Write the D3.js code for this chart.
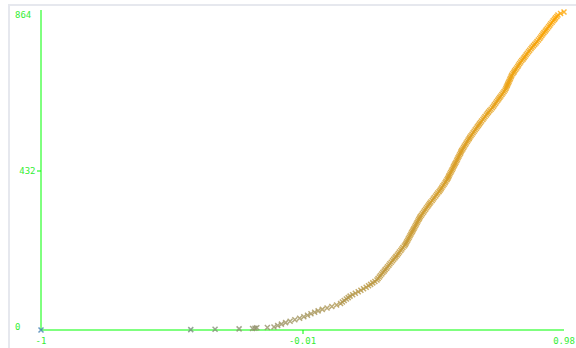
<!DOCTYPE html>
<html>
<head>
<meta charset="utf-8">
<script src="https://cdn.jsdelivr.net/npm/d3@7"></script>
<style>
  html, body { margin: 0; padding: 0; background: #fff; }
  svg { display: block; }
  text { font-family: "DejaVu Sans Mono", monospace; font-size: 9px; fill: #33ee33; }
</style>
</head>
<body>
<svg id="chart" width="576" height="348"></svg>
<script>
// Sorted sample: each value plotted against its rank.
const ranks = [0, 1, 2, 3, 4, 5, 6, 7,
  8, 12, 16, 20, 24, 28, 32, 36, 40, 44, 48, 52, 56, 60, 64, 68, 72, 76, 80, 84, 88, 92,
  96, 100, 104, 108, 112, 116, 120, 124, 128, 132, 136, 140, 144, 148, 152, 156, 160,
  164, 168, 172, 176, 180, 184, 188, 192, 196, 200, 204, 208, 212, 216, 220, 224, 228,
  232, 236, 240, 244, 248, 252, 256, 260, 264, 268, 272, 276, 280, 284, 288, 292, 296,
  300, 304, 308, 312, 316, 320, 324, 328, 332, 336, 340, 344, 348, 352, 356, 360, 364,
  368, 372, 376, 380, 384, 388, 392, 396, 400, 404, 408, 412, 416, 420, 424, 428, 432,
  436, 440, 444, 448, 452, 456, 460, 464, 468, 472, 476, 480, 484, 488, 492, 496, 500,
  504, 508, 512, 516, 520, 524, 528, 532, 536, 540, 544, 548, 552, 556, 560, 564, 568,
  572, 576, 580, 584, 588, 592, 596, 600, 604, 608, 612, 616, 620, 624, 628, 632, 636,
  640, 644, 648, 652, 656, 660, 664, 668, 672, 676, 680, 684, 688, 692, 696, 700, 704,
  708, 712, 716, 720, 724, 728, 732, 736, 740, 744, 748, 752, 756, 760, 764, 768, 772,
  776, 780, 784, 788, 792, 796, 800, 804, 808, 812, 816, 820, 824, 828, 832, 836, 840,
  844, 848, 852, 856, 860, 864];

const values = [-1, -0.433, -0.341, -0.250, -0.199, -0.190, -0.183, -0.143,
  -0.118, -0.104, -0.090, -0.074, -0.057, -0.039, -0.021, -0.005, 0.009, 0.022, 0.036, 0.049,
  0.065, 0.083, 0.101, 0.119, 0.134, 0.141, 0.148, 0.156, 0.163, 0.170,
  0.180, 0.190, 0.201, 0.211, 0.221, 0.231, 0.240, 0.248, 0.256, 0.264, 0.272, 0.276,
  0.281, 0.285, 0.290, 0.294, 0.299,
  0.303, 0.308, 0.312, 0.317, 0.321, 0.326, 0.331, 0.335, 0.340, 0.344, 0.349, 0.353,
  0.357, 0.362, 0.366, 0.370, 0.375,
  0.379, 0.382, 0.385, 0.388, 0.391, 0.394, 0.397, 0.400, 0.403, 0.406, 0.409, 0.412,
  0.415, 0.418, 0.421, 0.424, 0.427,
  0.430, 0.433, 0.436, 0.440, 0.444, 0.448, 0.452, 0.456, 0.460, 0.464, 0.468, 0.472,
  0.476, 0.481, 0.485, 0.489, 0.494,
  0.498, 0.502, 0.507, 0.511, 0.515, 0.518, 0.522, 0.526, 0.530, 0.533, 0.537, 0.540,
  0.543, 0.545, 0.548, 0.551, 0.554,
  0.557, 0.560, 0.562, 0.565, 0.568, 0.571, 0.574, 0.576, 0.579, 0.582, 0.585, 0.588,
  0.590, 0.593, 0.597, 0.600, 0.603,
  0.607, 0.610, 0.614, 0.617, 0.621, 0.624, 0.628, 0.632, 0.636, 0.640, 0.644, 0.648,
  0.652, 0.656, 0.660, 0.664, 0.668,
  0.673, 0.677, 0.681, 0.686, 0.690, 0.694, 0.699, 0.704, 0.709, 0.713, 0.717, 0.721,
  0.725, 0.729, 0.733, 0.737, 0.741,
  0.745, 0.749, 0.753, 0.757, 0.760, 0.762, 0.765, 0.767, 0.770, 0.772, 0.775, 0.777,
  0.780, 0.782, 0.786, 0.790, 0.793,
  0.797, 0.801, 0.805, 0.808, 0.812, 0.816, 0.820, 0.825, 0.829, 0.833, 0.837, 0.841,
  0.846, 0.850, 0.855, 0.859, 0.864,
  0.869, 0.874, 0.878, 0.883, 0.888, 0.892, 0.896, 0.900, 0.904, 0.909, 0.913, 0.917,
  0.922, 0.926, 0.930, 0.935, 0.939,
  0.944, 0.948, 0.953, 0.957, 0.967, 0.980];

const xTicks = [-1, -0.01, 0.98];
const yTicks = [0, 432, 864];

const svg = d3.select("#chart");

// light frame around the plot area
svg.append("rect")
  .attr("x", 9).attr("y", 5)
  .attr("width", 600).attr("height", 360)
  .attr("fill", "none")
  .attr("stroke", "#e6e8ee")
  .attr("stroke-width", 2);

const x = d3.scaleLinear().domain([-1, 0.98]).range([41, 564]);
const y = d3.scaleLinear().domain([0, 864]).range([330, 12]);
const color = d3.scaleLinear().domain([-1, 0.98])
  .range(["steelblue", "orange"]).interpolate(d3.interpolateRgb);

// axis lines
svg.append("line")
  .attr("x1", x(-1)).attr("x2", x(-1))
  .attr("y1", 10).attr("y2", y(0))
  .attr("stroke", "lime").attr("stroke-width", 1);
svg.append("line")
  .attr("x1", x(-1)).attr("x2", x(0.98))
  .attr("y1", y(0)).attr("y2", y(0))
  .attr("stroke", "lime").attr("stroke-width", 1);

// y tick labels: ends left-aligned, middle one right-aligned next to its tick
yTicks.forEach((t, i) => {
  const last = i === yTicks.length - 1;
  const first = i === 0;
  const mid = !first && !last;
  if (mid) {
    svg.append("line")
      .attr("x1", x(-1) - 4).attr("x2", x(-1))
      .attr("y1", Math.round(y(t))).attr("y2", Math.round(y(t)))
      .attr("stroke", "lime");
  }
  svg.append("text")
    .attr("x", mid ? x(-1) - 5.5 : 15)
    .attr("y", y(t))
    .attr("text-anchor", mid ? "end" : "start")
    .attr("dy", last ? "0.72em" : first ? "0" : "0.33em")
    .text(t);
});

// x tick labels
xTicks.forEach((t, i) => {
  const mid = i > 0 && i < xTicks.length - 1;
  if (mid) {
    svg.append("line")
      .attr("x1", Math.round(x(t))).attr("x2", Math.round(x(t)))
      .attr("y1", y(0)).attr("y2", y(0) + 4)
      .attr("stroke", "lime");
  }
  svg.append("text")
    .attr("x", x(t))
    .attr("y", 343.5)
    .attr("text-anchor", "middle")
    .text(t);
});

// cross markers
const pts = ranks.map((r, i) => ({ r, v: values[i] }));
svg.append("g")
  .selectAll("path")
  .data(pts)
  .join("path")
  .attr("transform", d => `translate(${x(d.v)},${y(d.r)})`)
  .attr("d", "M-2.5,-2.5L2.5,2.5M-2.5,2.5L2.5,-2.5")
  .attr("fill", "none")
  .attr("stroke", d => color(d.v))
  .attr("stroke-width", 1.5)
  .attr("opacity", 0.8);
</script>
</body>
</html>
